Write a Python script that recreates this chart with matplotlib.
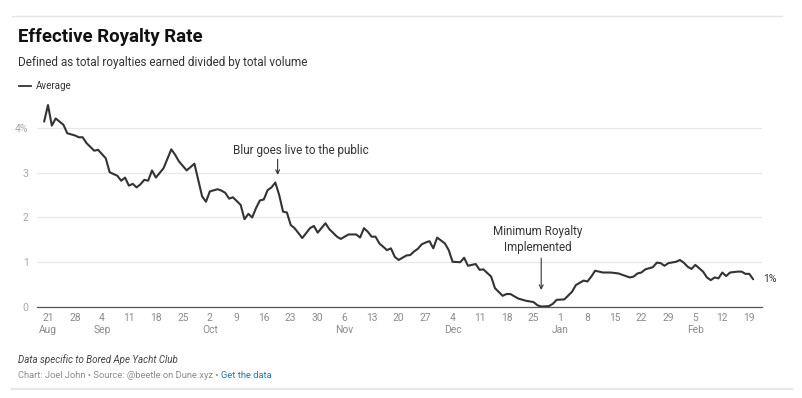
import matplotlib
matplotlib.use("Agg")
import matplotlib.pyplot as plt
import pandas as pd

plt.rcParams['font.family'] = ['Roboto', 'DejaVu Sans']

# ---------------- data ----------------
start_date = "2022-08-21"
day_offsets = [-1, 0, 1, 2, 3, 4, 5, 7, 8, 9, 10, 12, 13, 15, 16, 18, 19, 20, 21, 22,
               23, 24, 25, 26, 27, 28, 30, 32, 33, 34, 36, 38, 39, 40, 41, 42, 44, 45, 46, 47,
               48, 50, 51, 52, 53, 54, 55, 56, 57, 58, 59, 60, 61, 62, 63, 64, 66, 68, 69, 70,
               72, 73, 75, 76, 78, 80, 81, 82, 83, 84, 85, 86, 88, 89, 90, 91, 93, 94, 95, 96,
               97, 98, 99, 100, 101, 103, 104, 105, 107, 108, 109, 111, 112, 113, 115, 116, 118, 119, 120, 122,
               124, 126, 127, 128, 130, 131, 132, 134, 136, 137, 139, 140, 141, 142, 144, 146, 148, 151, 152, 153,
               154, 155, 157, 158, 159, 160, 161, 163, 164, 165, 166, 167, 168, 170, 171, 172, 173, 174, 175, 176,
               177, 179, 180, 181, 182, 183]
royalty_rate = [4.14, 4.51, 4.05, 4.21, 4.14, 4.07, 3.88, 3.83, 3.79, 3.79, 3.66, 3.49, 3.51, 3.32, 3.01, 2.93, 2.82, 2.89, 2.71, 2.75,
                2.67, 2.74, 2.84, 2.82, 3.05, 2.89, 3.10, 3.52, 3.40, 3.25, 3.05, 3.20, 2.83, 2.47, 2.35, 2.58, 2.63, 2.60, 2.55, 2.42,
                2.45, 2.28, 1.96, 2.08, 2.00, 2.21, 2.38, 2.40, 2.61, 2.67, 2.78, 2.50, 2.13, 2.11, 1.83, 1.76, 1.54, 1.76, 1.81, 1.66,
                1.87, 1.74, 1.57, 1.52, 1.62, 1.62, 1.55, 1.76, 1.68, 1.57, 1.57, 1.42, 1.27, 1.31, 1.12, 1.05, 1.15, 1.16, 1.24, 1.30,
                1.40, 1.44, 1.47, 1.31, 1.55, 1.42, 1.27, 1.01, 1.00, 1.10, 0.92, 0.96, 0.83, 0.84, 0.68, 0.42, 0.25, 0.29, 0.29, 0.19,
                0.14, 0.11, 0.04, 0.01, 0.02, 0.07, 0.16, 0.17, 0.34, 0.49, 0.59, 0.57, 0.68, 0.81, 0.77, 0.77, 0.75, 0.66, 0.68, 0.75,
                0.77, 0.84, 0.89, 0.99, 0.98, 0.92, 0.98, 1.01, 1.05, 0.99, 0.90, 0.85, 0.94, 0.79, 0.66, 0.60, 0.66, 0.64, 0.77, 0.69,
                0.77, 0.79, 0.79, 0.74, 0.74, 0.62]

x_tick_dates = pd.date_range("2022-08-21", "2023-02-19", freq="7D")
x_tick_labels = ["21\nAug", "28", "4\nSep", "11", "18", "25", "2\nOct", "9", "16", "23", "30",
                 "6\nNov", "13", "20", "27", "4\nDec", "11", "18", "25", "1\nJan", "8", "15",
                 "22", "29", "5\nFeb", "12", "19"]
y_ticks = [0, 1, 2, 3, 4]
y_tick_labels = ["0", "1", "2", "3", "4%"]

series_name = "Average"
end_label = "1%"
blur_date = "2022-10-19"
min_royalty_date = "2022-12-27"

title = "Effective Royalty Rate"
subtitle = "Defined as total royalties earned divided by total volume"
note = "Data specific to Bored Ape Yacht Club"
credit = "Chart: Joel John \u2022 Source: @beetle on Dune.xyz \u2022 "
link = "Get the data"

# ---------------- figure ----------------
W, H = 803, 398
fig = plt.figure(figsize=(W / 100, H / 100), dpi=100)
fig.patch.set_facecolor("white")


def fx(px):
    return px / W


def fy(py):
    return 1 - py / H


dates = pd.Timestamp(start_date) + pd.to_timedelta(day_offsets, unit="D")
d0 = pd.Timestamp(start_date)

ax = fig.add_axes([fx(37), fy(307), fx(762) - fx(37), fy(101) - fy(307)])
ax.plot(dates, royalty_rate, color="#333333", lw=1.5, solid_joinstyle="round",
        solid_capstyle="round", zorder=3)

ax.set_ylim(0, 4.6)
ax.set_xlim(d0 + pd.Timedelta(days=-2.85), d0 + pd.Timedelta(days=185.3))

for s in ["top", "right", "left"]:
    ax.spines[s].set_visible(False)
ax.spines["bottom"].set_color("#555555")
ax.spines["bottom"].set_linewidth(0.9)

ax.set_yticks(y_ticks)
ax.set_yticklabels(y_tick_labels)
ax.tick_params(axis="y", length=0, pad=6, labelsize=7.5, labelcolor="#a8a8a8")
ax.grid(axis="y", color="#e8e8e8", lw=0.9, zorder=0)
ax.set_axisbelow(True)

ax.set_xticks(x_tick_dates)
ax.set_xticklabels(x_tick_labels, linespacing=1.25)
ax.tick_params(axis="x", length=0, pad=4, labelsize=7.4, labelcolor="#8a8a8a")

# annotations
ax.annotate("", xy=(pd.Timestamp(blur_date) + pd.Timedelta(days=0.6), 2.95),
            xytext=(pd.Timestamp(blur_date) + pd.Timedelta(days=0.6), 3.30),
            arrowprops=dict(arrowstyle="->", color="#333333", lw=0.8,
                            shrinkA=0, shrinkB=0, mutation_scale=7))
ax.text(pd.Timestamp(blur_date) + pd.Timedelta(days=6.7), 3.49,
        "Blur goes live to the public", ha="center", va="center",
        fontsize=8.5, color="#333333")

ax.annotate("", xy=(pd.Timestamp(min_royalty_date), 0.38),
            xytext=(pd.Timestamp(min_royalty_date), 1.09),
            arrowprops=dict(arrowstyle="->", color="#333333", lw=0.8,
                            shrinkA=0, shrinkB=0, mutation_scale=7))
ax.text(pd.Timestamp(min_royalty_date) - pd.Timedelta(days=0.9), 1.51,
        "Minimum Royalty\nImplemented", ha="center", va="center",
        fontsize=8.4, color="#333333", linespacing=1.25)

ax.annotate(end_label, xy=(dates[-1], royalty_rate[-1]), xytext=(7, 0),
            textcoords="offset points", ha="left", va="center",
            fontsize=7.5, color="#333333")

# header
fig.text(fx(18), fy(41.7), title, fontsize=13.4, fontweight="bold",
         color="#111111", va="baseline", ha="left")
fig.text(fx(18), fy(66), subtitle, fontsize=8.5, color="#333333",
         va="baseline", ha="left")
fig.add_artist(plt.Line2D([fx(19), fx(31)], [fy(86), fy(86)], color="#333333",
                          lw=1.3, transform=fig.transFigure))
fig.text(fx(36), fy(89), series_name, fontsize=7.0, color="#333333",
         va="baseline", ha="left")

# footer
fig.text(fx(18), fy(363), note, fontsize=7.0, style="italic", color="#444444",
         va="baseline", ha="left")
t_credit = fig.text(fx(18), fy(378), credit, fontsize=6.75, color="#8c8c8c",
                    va="baseline", ha="left")
fig.canvas.draw()
bb = t_credit.get_window_extent(renderer=fig.canvas.get_renderer())
fig.text(bb.x1 / W, fy(378), link, fontsize=6.75, color="#1f7bb6",
         va="baseline", ha="left")

# frame lines
fig.add_artist(plt.Line2D([fx(12), fx(782)], [fy(16), fy(16)], color="#e4e4e4",
                          lw=1.0, transform=fig.transFigure))
fig.add_artist(plt.Line2D([fx(12), fx(792)], [fy(389), fy(389)], color="#e8e8e8",
                          lw=1.6, transform=fig.transFigure))

fig.savefig("out.png", dpi=100, facecolor="white")
